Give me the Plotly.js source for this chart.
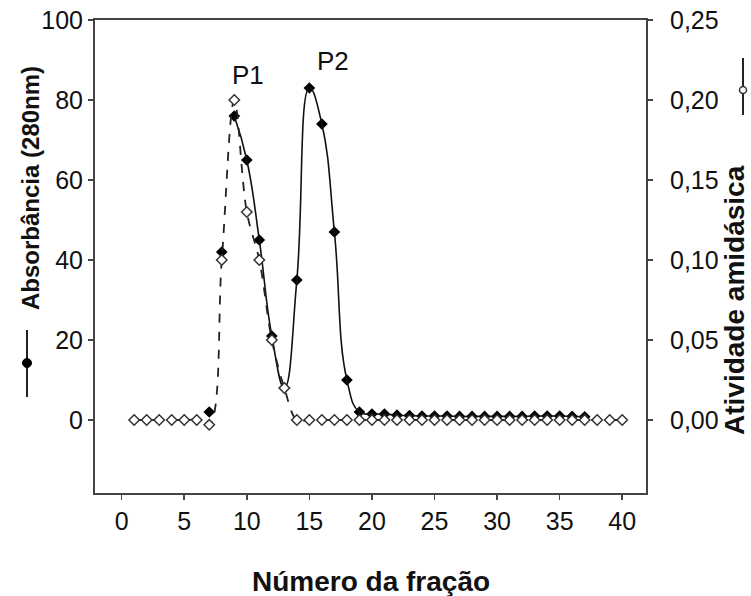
<!DOCTYPE html>
<html>
<head>
<meta charset="utf-8">
<script src="https://cdn.plot.ly/plotly-3.0.1.min.js"></script>
<style>html,body{margin:0;padding:0;background:#fff;}#chart{width:751px;height:596px;}</style>
</head>
<body>
<div id="chart"></div>
<script>
// Fraction numbers
var fractions = [1,2,3,4,5,6,7,8,9,10,11,12,13,14,15,16,17,18,19,20,21,22,23,24,25,26,27,28,29,30,31,32,33,34,35,36,37,38,39,40];
// Absorbância (280nm) — left axis, filled markers
var absorbance = [null,null,null,null,null,null,2,42,76,65,45,21,8,35,83,74,47,10,2,1.5,1.5,1.2,1.1,1,1,1,0.9,0.9,0.9,0.9,0.9,0.9,1,1,1,0.9,0.8,null,null,null];
// Atividade amidásica — right axis, open markers
var activity = [0,0,0,0,0,0,-0.003,0.10,0.20,0.13,0.10,0.05,0.02,0,0,0,0,0,0,0,0,0,0,0,0,0,0,0,0,0,0,0,0,0,0,0,0,0,0,0];
var xTicks = [0,5,10,15,20,25,30,35,40];
var leftTicks = [0,20,40,60,80,100];
var rightTicks = [0,0.05,0.10,0.15,0.20,0.25];

var tickFont = {family: 'Liberation Sans, Arial, sans-serif', size: 25, color: '#111'};
var titleFamily = 'Liberation Sans, Arial, sans-serif';
var axisColor = '#444';

// absorbance curve is drawn solid from the first peak onwards
var absLine = absorbance.map(function (v, i) { return fractions[i] >= 9 ? v : null; });

var traces = [
  {
    x: fractions, y: absorbance, yaxis: 'y', type: 'scatter', mode: 'markers',
    marker: {symbol: 'diamond', size: 9, color: '#000'}, hoverinfo: 'x+y'
  },
  {
    x: fractions, y: absLine, yaxis: 'y', type: 'scatter', mode: 'lines',
    line: {color: '#111', width: 1.6, shape: 'spline', smoothing: 1.3},
    connectgaps: false, hoverinfo: 'skip'
  },
  {
    x: fractions, y: activity, yaxis: 'y2', type: 'scatter', mode: 'lines+markers',
    line: {color: '#222', width: 1.8, shape: 'spline', smoothing: 1, dash: 'dash'},
    marker: {symbol: 'diamond', size: 8, color: '#fff', line: {color: '#333', width: 1.5}},
    hoverinfo: 'x+y'
  }
];

function ann(text, px, py, size, bold, angle) {
  return {text: text, xref: 'paper', yref: 'paper', x: (px - 95) / 551, y: (493 - py) / 473,
    xanchor: 'center', yanchor: 'middle', textangle: angle || 0, showarrow: false,
    font: {family: titleFamily, size: size, color: '#111', weight: bold ? 'bold' : 'normal'}};
}

var layout = {
  width: 751, height: 596,
  margin: {l: 95, r: 105, t: 20, b: 103},
  paper_bgcolor: '#fff', plot_bgcolor: '#fff',
  showlegend: false,
  separators: ',.',
  xaxis: {
    range: [-2.13, 41.9], tickvals: xTicks, ticktext: xTicks.map(String),
    showline: true, linecolor: axisColor, linewidth: 2, mirror: true,
    ticks: 'outside', ticklen: 5, tickwidth: 1.5, tickcolor: axisColor,
    showgrid: false, zeroline: false, tickfont: tickFont
  },
  yaxis: {
    range: [-18.25, 100], tickvals: leftTicks,
    showline: true, linecolor: axisColor, linewidth: 2,
    ticks: 'outside', ticklen: 5, tickwidth: 1.5, tickcolor: axisColor,
    showgrid: false, zeroline: false, tickfont: tickFont
  },
  yaxis2: {
    overlaying: 'y', side: 'right',
    range: [-0.045625, 0.25], tickvals: rightTicks, tickformat: '.2f',
    showline: true, linecolor: axisColor, linewidth: 2,
    ticks: 'outside', ticklen: 5, tickwidth: 1.5, tickcolor: axisColor, ticklabelstandoff: 12,
    showgrid: false, zeroline: false, tickfont: tickFont
  },
  annotations: [
    ann('Absorbância (280nm)', 30, 188, 24, true, -90),
    ann('Atividade amidásica', 734, 300, 28, true, -90),
    ann('Número da fração', 371, 581, 28, true, 0),
    ann('P1', 248, 75, 26, false, 0),
    ann('P2', 333, 61, 26, false, 0)
  ],
  shapes: [
    {type: 'line', xref: 'paper', yref: 'paper', x0: (27-95)/551, x1: (27-95)/551, y0: (493-330)/473, y1: (493-397)/473,
     line: {color: '#222', width: 2}},
    {type: 'circle', xref: 'paper', yref: 'paper', xsizemode: 'pixel', ysizemode: 'pixel',
     xanchor: (27-95)/551, yanchor: (493-363)/473, x0: -4.5, x1: 4.5, y0: -4.5, y1: 4.5,
     fillcolor: '#000', line: {color: '#000', width: 1}},
    {type: 'line', xref: 'paper', yref: 'paper', x0: (743-95)/551, x1: (743-95)/551, y0: (493-58)/473, y1: (493-115)/473,
     line: {color: '#222', width: 2}},
    {type: 'circle', xref: 'paper', yref: 'paper', xsizemode: 'pixel', ysizemode: 'pixel',
     xanchor: (743-95)/551, yanchor: (493-90)/473, x0: -3.5, x1: 3.5, y0: -3.5, y1: 3.5,
     fillcolor: '#fff', line: {color: '#333', width: 1.5}}
  ]
};

Plotly.newPlot('chart', traces, layout, {displayModeBar: false, staticPlot: true});
</script>
</body>
</html>
